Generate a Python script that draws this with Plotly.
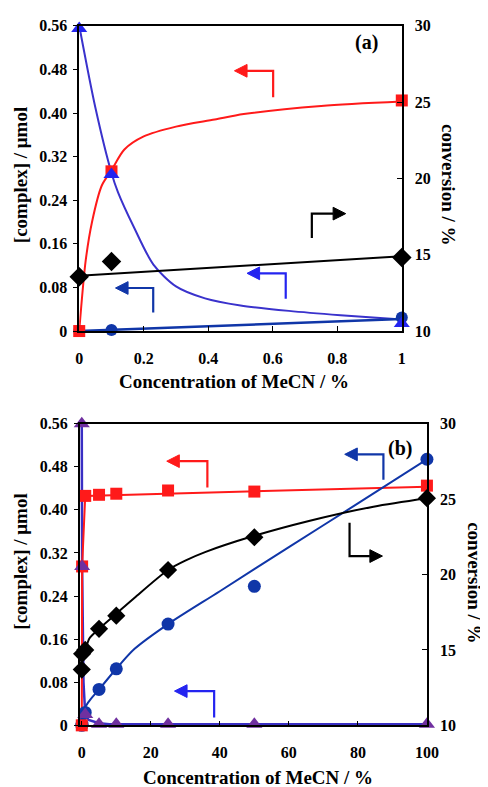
import plotly.graph_objects as go

W, H = 488, 787

# ---------------- data: panel (a) ----------------
a_x = [0, 0.1, 1]
a_complex_red = [0.0, 0.293, 0.423]
a_complex_tri = [0.555, 0.287, 0.014]
a_complex_circ = [0.0, 0.002, 0.025]
a_conversion = [13.55, 14.55, 14.82]

a_red_fit_x = [0, 0.02, 0.04, 0.07, 0.1, 0.14, 0.2, 0.3, 0.42, 0.51, 0.75, 1.0]
a_red_fit_y = [0.0, 0.129, 0.201, 0.267, 0.295, 0.333, 0.357, 0.375, 0.388, 0.398, 0.413, 0.421]
a_tri_fit_x = [0, 0.05, 0.1, 0.12, 0.17, 0.23, 0.3, 0.39, 0.5, 0.65, 0.81, 1.0]
a_tri_fit_y = [0.56, 0.41, 0.29, 0.255, 0.19, 0.122, 0.082, 0.06, 0.047, 0.037, 0.029, 0.021]
a_conv_fit_x = [0, 1]
a_conv_fit_y = [13.62, 14.9]
a_circ_fit_x = [0, 1]
a_circ_fit_y = [0.0, 0.022]

# ---------------- data: panel (b) ----------------
b_x = [0, 0.1, 1, 5, 10, 25, 50, 100]
b_complex_red = [0.0, 0.295, 0.426, 0.428, 0.43, 0.436, 0.434, 0.445]
b_complex_tri = [0.56, 0.295, 0.02, 0.002, 0.002, 0.002, 0.002, 0.002]
b_complex_circ = [0.0, 0.002, 0.024, 0.0667, 0.105, 0.188, 0.258, 0.494]
b_conversion = [13.7, 14.74, 15.0, 16.4, 17.27, 20.3, 22.47, 25.06]

b_red_fit_x = [0, 0.1, 1, 100]
b_red_fit_y = [0.0, 0.295, 0.426, 0.443]
b_conv_fit_x = [0, 0.1, 1, 2.2, 5, 10, 15.3, 25, 30.3, 35.9, 49, 65.8, 84.5, 100]
b_conv_fit_y = [13.7, 14.7, 15.0, 15.76, 16.4, 17.4, 18.46, 20.3, 20.95, 21.5, 22.5, 23.55, 24.5, 25.06]
b_circ_fit_x = [0, 2.2, 5, 10, 15.3, 25, 40, 60, 80, 100]
b_circ_fit_y = [0.024, 0.0455, 0.0667, 0.105, 0.142, 0.188, 0.249, 0.331, 0.412, 0.494]
b_tri_fit_x = [0, 0.1, 0.5, 1, 2, 5, 8, 100]
b_tri_fit_y = [0.56, 0.295, 0.08, 0.02, 0.01, 0.004, 0.002, 0.002]

left_ticks = [0, 0.08, 0.16, 0.24, 0.32, 0.40, 0.48, 0.56]
left_ticktext = ["0", "0.08", "0.16", "0.24", "0.32", "0.40", "0.48", "0.56"]
right_ticks = [10, 15, 20, 25, 30]
a_xticks = [0, 0.2, 0.4, 0.6, 0.8, 1]
a_xticktext = ["0", "0.2", "0.4", "0.6", "0.8", "1"]
b_xticks = [0, 20, 40, 60, 80, 100]

RED = "#ff1a1a"
BLUE_TRI = "#2424f0"
BLUE_TRI_LINE = "#3a32cc"
NAVY = "#1036a8"
PURPLE = "#7030a0"
PURPLE_LINE = "#3a2fc4"
FONT = "Liberation Serif"

fig = go.Figure()

def line(x, y, color, xa, ya, shape="linear", width=2):
    fig.add_trace(go.Scatter(x=x, y=y, mode="lines", xaxis=xa, yaxis=ya,
                             line=dict(color=color, width=width, shape=shape, smoothing=0.8),
                             cliponaxis=False, showlegend=False, hoverinfo="skip"))

def marks(x, y, color, symbol, size, xa, ya):
    fig.add_trace(go.Scatter(x=x, y=y, mode="markers", xaxis=xa, yaxis=ya,
                             marker=dict(color=color, symbol=symbol, size=size, line=dict(width=0)),
                             cliponaxis=False, showlegend=False))

# panel (a)
line(a_tri_fit_x, a_tri_fit_y, BLUE_TRI_LINE, "x", "y", "spline")
line(a_red_fit_x, a_red_fit_y, RED, "x", "y", "spline")
line(a_circ_fit_x, a_circ_fit_y, NAVY, "x", "y", width=2.5)
line(a_conv_fit_x, a_conv_fit_y, "black", "x", "y2")
marks(a_x, a_complex_circ, NAVY, "circle", 12, "x", "y")
marks(a_x, a_complex_red, RED, "square", 12, "x", "y")
marks(a_x, a_complex_tri, BLUE_TRI, "triangle-up", 14, "x", "y")
marks(a_x, a_conversion, "black", "diamond", 15, "x", "y2")

# panel (b)
line(b_tri_fit_x, b_tri_fit_y, PURPLE_LINE, "x2", "y3", width=2.5)
line(b_red_fit_x, b_red_fit_y, RED, "x2", "y3")
line(b_circ_fit_x, b_circ_fit_y, NAVY, "x2", "y3", "spline")
line(b_conv_fit_x, b_conv_fit_y, "black", "x2", "y4", "spline")
marks(b_x, b_complex_circ, NAVY, "circle", 13, "x2", "y3")
marks(b_x, b_complex_red, RED, "square", 12, "x2", "y3")
marks(b_x, b_complex_tri, PURPLE, "triangle-up", 14, "x2", "y3")
marks(b_x, b_conversion, "black", "diamond", 14, "x2", "y4")

def px_x(p):
    return p / W

def px_y(p):
    return 1 - p / H

tickfont = dict(family=FONT, size=16, color="black", weight="bold")
axline = dict(showline=True, linecolor="black", linewidth=1.5, showgrid=False, zeroline=False)

a_dom_x = [px_x(69.5), px_x(403)]
a_dom_y = [px_y(322), px_y(10)]
b_dom_x = [px_x(70), px_x(429)]
b_dom_y = [px_y(725), px_y(416.7)]

fig.update_layout(
    width=W, height=H, margin=dict(l=0, r=0, t=0, b=0),
    paper_bgcolor="white", plot_bgcolor="white", showlegend=False,
    xaxis=dict(domain=a_dom_x, anchor="y", range=[0, 1], tickvals=a_xticks, ticktext=a_xticktext,
               ticks="inside", ticklen=5, tickcolor="black", mirror=True, tickfont=tickfont,
               ticklabelstandoff=12, **axline),
    yaxis=dict(domain=a_dom_y, anchor="x", range=[0, 0.56], tickvals=left_ticks, ticktext=left_ticktext,
               ticks="outside", ticklen=4, tickcolor="black", tickfont=tickfont, ticklabelstandoff=3, **axline),
    yaxis2=dict(domain=a_dom_y, anchor="x", overlaying="y", side="right", range=[10, 30],
                tickvals=right_ticks, ticks="inside", ticklen=5, tickcolor="black", tickfont=tickfont,
                ticklabelstandoff=8, **axline),
    xaxis2=dict(domain=b_dom_x, anchor="y3", range=[-0.6, 100], tickvals=b_xticks,
                ticks="inside", ticklen=5, tickcolor="black", mirror=True, tickfont=tickfont,
                ticklabelstandoff=12, **axline),
    yaxis3=dict(domain=b_dom_y, anchor="x2", range=[0, 0.56], tickvals=left_ticks, ticktext=left_ticktext,
                ticks="outside", ticklen=4, tickcolor="black", tickfont=tickfont, ticklabelstandoff=3, **axline),
    yaxis4=dict(domain=b_dom_y, anchor="x2", overlaying="y3", side="right", range=[10, 30],
                tickvals=right_ticks, ticks="inside", ticklen=5, tickcolor="black", tickfont=tickfont,
                ticklabelstandoff=8, **axline),
)

titlefont = dict(family=FONT, size=19, color="black", weight="bold")
ann = []
def text(t, xp, yp, angle=0, size=19):
    f = dict(titlefont)
    f["size"] = size
    ann.append(dict(text=t, x=px_x(xp), y=px_y(yp), xref="paper", yref="paper", showarrow=False,
                    xanchor="center", yanchor="middle", textangle=angle, font=f))

text("[complex] / μmol", 9, 163, -90)
text("conversion / %", 452, 172, 90)
text("Concentration of MeCN / %", 230, 374)
text("[complex] / μmol", 9, 558, -90)
text("conversion / %", 478, 579, 90)
text("Concentration of MeCN / %", 254, 778)
text("(a)", 367, 27, 0, 20)
text("(b)", 401, 442, 0, 20)
fig.update_layout(annotations=ann)

# bent indicator arrows (decorations), in pixel coordinates
arrows = [
    ([(270, 83), (270, 56), (243, 56)], (230, 56), RED),
    ([(310, 227), (310, 202), (332, 202)], (345, 202), "black"),
    ([(146, 303), (146, 278), (120, 278)], (107, 278), NAVY),
    ([(283, 289), (283, 263), (256, 263)], (243, 263), BLUE_TRI),
    ([(202, 482), (202, 455), (173, 455)], (160, 455), RED),
    ([(384, 474), (384, 448), (357, 448)], (344, 448), NAVY),
    ([(349, 518), (349, 552), (370, 552)], (383, 552), "black"),
    ([(209, 717), (209, 690), (181, 690)], (168, 690), BLUE_TRI),
]
shapes = []
for pts, tip, col in arrows:
    path = "M " + " L ".join(f"{px_x(x):.5f},{px_y(y):.5f}" for x, y in pts)
    shapes.append(dict(type="path", path=path, xref="paper", yref="paper",
                       line=dict(color=col, width=2.2)))
    bx, by = pts[-1]
    hw = 6.5
    if bx == tip[0]:
        p1, p2 = (bx - hw, by), (bx + hw, by)
    else:
        p1, p2 = (bx, by - hw), (bx, by + hw)
    head = (f"M {px_x(tip[0]):.5f},{px_y(tip[1]):.5f} L {px_x(p1[0]):.5f},{px_y(p1[1]):.5f} "
            f"L {px_x(p2[0]):.5f},{px_y(p2[1]):.5f} Z")
    shapes.append(dict(type="path", path=head, xref="paper", yref="paper",
                       fillcolor=col, line=dict(color=col, width=1)))
fig.update_layout(shapes=shapes)

fig.write_html("out.html")
